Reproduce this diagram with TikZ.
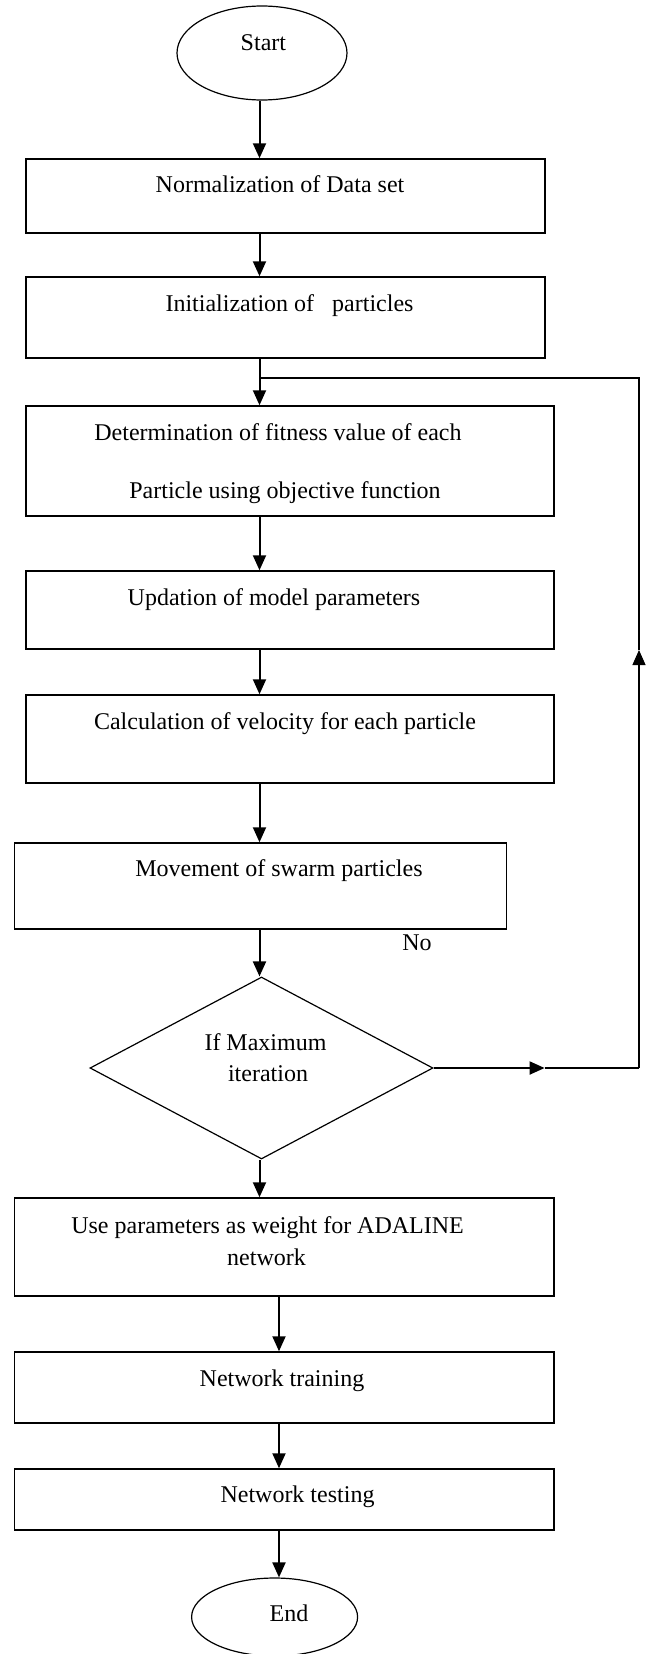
\documentclass[tikz,border=0pt]{standalone}
\usepackage{fontspec}
\setmainfont{Liberation Serif}
\usetikzlibrary{shapes.geometric,arrows.meta,positioning}

\begin{document}
\begin{tikzpicture}[x=1pt,y=-1pt,
    box/.style 2 args={draw,line width=1.5pt,inner sep=0pt,minimum width=#1,minimum height=#2},
    term/.style 2 args={draw,ellipse,line width=1.2pt,inner sep=0pt,minimum width=#1,minimum height=#2},
    txt/.style={anchor=base,inner sep=0pt,font=\fontsize{24}{28}\selectfont},
    flow/.style={line width=2pt,-{Triangle[length=15pt,width=13pt]}},
    back/.style={line width=1.2pt}]
  \useasboundingbox (0,0) rectangle (648,1654);
  \coordinate (ax) at (259.5,0);
  \coordinate (bx) at (279,0);
  % shapes
  \node[term={170pt}{94pt}] (start) at (262,53) {};
  \node[box={519pt}{74pt}] (norm) at (285.3,196) {};
  \node[box={519pt}{81pt}] (init) at (285.3,317.5) {};
  \node[box={528pt}{110pt}] (fit) at (290,461) {};
  \node[box={528pt}{78pt}] (upd) at (290,610) {};
  \node[box={528pt}{88pt}] (vel) at (290,739) {};
  \node[box={492pt}{86pt}] (move) at (260.5,886) {};
  \node[draw,diamond,line width=1.2pt,inner sep=0pt,minimum width=343pt,minimum height=182pt] (iter) at (261.5,1068) {};
  \node[box={539.5pt}{98pt}] (ada) at (284.3,1247) {};
  \node[box={539.5pt}{71pt}] (train) at (284.3,1387.5) {};
  \node[box={539.5pt}{61pt}] (test) at (284.3,1499.5) {};
  \node[term={166pt}{78pt}] (stop) at (274.6,1617) {};
  % texts
  \node[txt] (t_start) at (263.4,51) {Start};
  \node[txt] (t_norm) at (280,192) {Normalization of Data set};
  \node[txt] (t_init) at (289.5,311) {Initialization of~~~particles};
  \node[txt] (t_fit1) at (278,440) {Determination of fitness value of each};
  \node[txt] (t_fit2) at (285,498) {Particle using objective function};
  \node[txt] (t_upd) at (274,605) {Updation of model parameters};
  \node[txt] (t_vel) at (285,729) {Calculation of velocity for each particle};
  \node[txt] (t_move) at (279,876) {Movement of swarm particles};
  \node[txt] (t_no) at (417,950) {No};
  \node[txt] (t_iter1) at (265.5,1050) {If Maximum};
  \node[txt] (t_iter2) at (268,1081) {iteration};
  \node[txt] (t_ada1) at (267.6,1233) {Use parameters as weight for ADALINE};
  \node[txt] (t_ada2) at (266.5,1265) {network};
  \node[txt] (t_train) at (282,1386) {Network training};
  \node[txt] (t_test) at (297.5,1502) {Network testing};
  \node[txt] (t_stop) at (289,1621) {End};
  % main flow
  \path[flow]
    (start.south -| ax) edge (norm.north -| ax)
    (norm.south -| ax) edge (init.north -| ax)
    (init.south -| ax) edge (fit.north -| ax)
    (fit.south -| ax) edge (upd.north -| ax)
    (upd.south -| ax) edge (vel.north -| ax)
    (vel.south -| ax) edge (move.north -| ax)
    (move.south -| ax) edge (iter.north -| ax)
    (iter.south -| ax) edge (ada.north -| ax)
    (ada.south -| bx) edge (train.north -| bx)
    (train.south -| bx) edge (test.north -| bx)
    (test.south -| bx) edge (stop.north -| bx);
  % loop back
  \coordinate (nob) at (544.6,1068);
  \coordinate (c_1) at (639,1068);
  \coordinate (upb) at (639,650);
  \coordinate (c_2) at (639,378);
  \draw[flow] (iter.east) -- (nob);
  \draw[back] (nob) -- (c_1);
  \draw[back,-{Triangle[length=15pt,width=13pt]}] (c_1) -- (upb);
  \draw[back] (upb) -- (c_2) -- (c_2 -| ax);
\end{tikzpicture}
\end{document}
